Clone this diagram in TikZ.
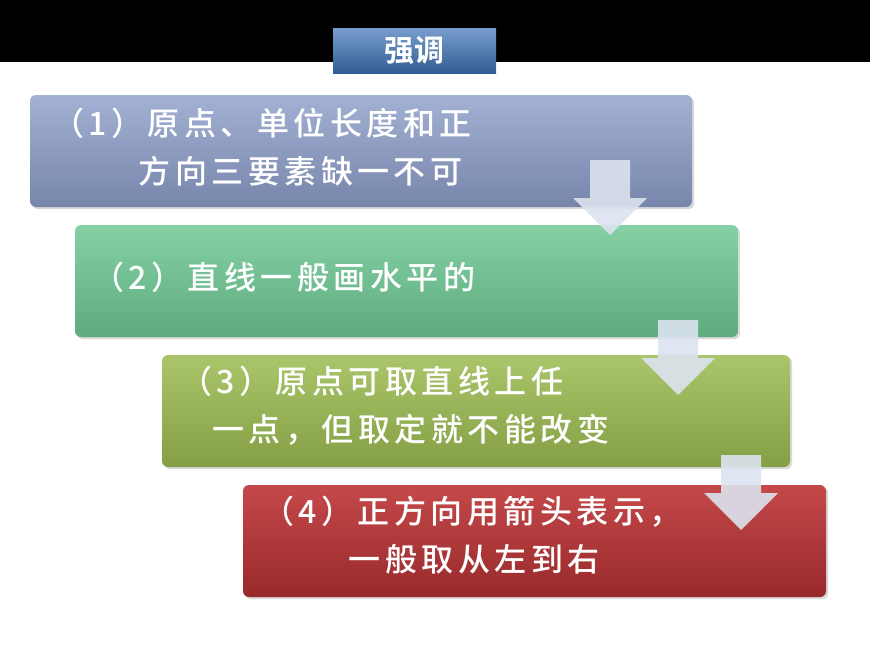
\documentclass[tikz,border=0pt]{standalone}
\usepackage{fontspec}
\newfontfamily\cjk{Noto Sans CJK SC Bold}
\newfontfamily\cjkwide[LetterSpace=14]{Noto Sans CJK SC Medium}
\usetikzlibrary{positioning,shadows}
\definecolor{cblue}{HTML}{8C9DC9}
\definecolor{cgreen}{HTML}{6FC995}
\definecolor{colive}{HTML}{9BBB50}
\definecolor{cred}{HTML}{BE3436}
\definecolor{carrow}{HTML}{DCE3EF}
\definecolor{ctitle}{HTML}{3E74B8}
\begin{document}
\begin{tikzpicture}[x=1pt,y=-1pt,
  stepbox/.style={rounded corners=6pt, drop shadow={opacity=0.3}},
  txt/.style={text=white, font=\cjkwide\fontsize{32}{48}\selectfont, align=left, anchor=north west, inner sep=0pt},
  downarrow/.style={fill=carrow, opacity=0.9}]
\useasboundingbox (0,0) rectangle (870,653);
\fill[black] (0,0) rectangle (870,62);
% title
\shade[top color=ctitle!70!white, bottom color=ctitle!80!black] (333,28) rectangle (496,73);
\node[text=white, font=\cjk\fontsize{30}{34}\selectfont] (title) at (414.5,50) {强调};
% boxes
\shade[stepbox, top color=cblue!80!white, bottom color=cblue!85!black] (30,95) rectangle (692,207);
\node[txt] (t1) at (52,108) {（1）原点、单位长度和正\\\hspace{2.7em}方向三要素缺一不可};
\shade[stepbox, top color=cgreen!85!white, bottom color=cgreen!85!black] (75,225) rectangle (738,337);
\node[txt] (t2) at (92,262) {（2）直线一般画水平的};
\shade[stepbox, top color=colive!85!white, bottom color=colive!85!black] (162,355) rectangle (790,467);
\node[txt] (t3) at (180,366) {（3）原点可取直线上任\\\hspace{1em}一点，但取定就不能改变};
\shade[stepbox, top color=cred!90!white, bottom color=cred!80!black] (243,485) rectangle (826,597);
\node[txt] (t4) at (262,496) {（4）正方向用箭头表示，\\\hspace{2.7em}一般取从左到右};
% arrows
\foreach \x/\y in {610/160, 678/320, 741/455}
  \fill[downarrow] (\x-20,\y) -- (\x+20,\y) -- (\x+20,\y+38) -- (\x+37,\y+38)
    -- (\x,\y+75) -- (\x-37,\y+38) -- (\x-20,\y+38) -- cycle;
\end{tikzpicture}
\end{document}
